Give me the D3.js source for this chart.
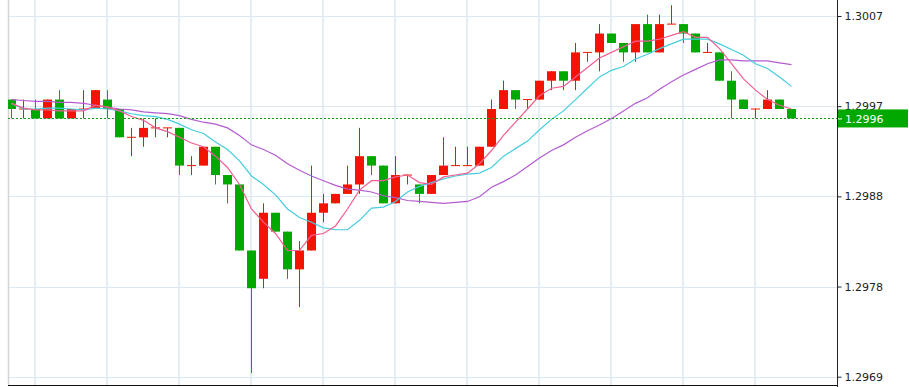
<!DOCTYPE html>
<html lang="en">
<head>
    <meta charset="UTF-8">
    <title>Candles</title>
    <style type="text/css">
        body { margin: 0; background: #ffffff; }
        .axis text { font: 11px "DejaVu Sans", sans-serif; fill: #222222; }
    </style>
</head>
<script src="https://d3js.org/d3.v7.min.js"></script>
<body>
<svg id="chart"></svg>

<script>
// OHLC (one candle per 12px)
var opens  = [1.2998,1.2997,1.2997,1.2996,1.2998,1.2996,1.2997,1.2997,1.2998,1.2997,
              1.2994,1.2994,1.2995,1.2995,1.2995,1.2991,1.2991,1.2993,1.2990,1.2989,
              1.2982,1.2979,1.2986,1.2984,1.2980,1.2982,1.2986,1.2987,1.2988,1.2989,
              1.2992,1.2991,1.2987,1.2990,1.2989,1.2988,1.2990,1.2991,1.2991,1.2991,
              1.2993,1.2997,1.2999,1.2998,1.2998,1.3000,1.3001,1.3000,1.3003,1.3003,
              1.3005,1.3004,1.3003,1.3006,1.3003,1.3006,1.3006,1.3005,1.3003,1.3003,
              1.3000,1.2998,1.2997,1.2997,1.2998,1.2997];
var highs  = [1.2998,1.2998,1.2998,1.2998,1.2999,1.2997,1.2999,1.2999,1.2999,1.2997,
              1.2995,1.2996,1.2996,1.2995,1.2995,1.2992,1.2993,1.2993,1.2990,1.2989,
              1.2982,1.2987,1.2986,1.2984,1.2983,1.2991,1.2988,1.2988,1.2991,1.2995,
              1.2992,1.2991,1.2992,1.2990,1.2989,1.2990,1.2994,1.2993,1.2993,1.2993,
              1.2998,1.3000,1.2999,1.2998,1.3000,1.3001,1.3001,1.3004,1.3003,1.3006,
              1.3005,1.3004,1.3006,1.3007,1.3007,1.3008,1.3006,1.3005,1.3004,1.3003,
              1.3001,1.2998,1.2997,1.2999,1.2998,1.2997];
var lows   = [1.2996,1.2996,1.2996,1.2996,1.2996,1.2996,1.2996,1.2997,1.2996,1.2994,
              1.2992,1.2993,1.2994,1.2994,1.2990,1.2990,1.2991,1.2989,1.2987,1.2982,
              1.2969,1.2978,1.2984,1.2979,1.2976,1.2982,1.2985,1.2987,1.2988,1.2988,
              1.2990,1.2987,1.2987,1.2989,1.2987,1.2988,1.2990,1.2991,1.2991,1.2991,
              1.2993,1.2997,1.2997,1.2997,1.2998,1.2999,1.2999,1.2999,1.3002,1.3001,
              1.3004,1.3002,1.3002,1.3003,1.3003,1.3006,1.3004,1.3003,1.3003,1.3000,
              1.2996,1.2997,1.2996,1.2997,1.2997,1.2996];
var closes = [1.2997,1.2997,1.2996,1.2998,1.2996,1.2997,1.2997,1.2999,1.2997,1.2994,
              1.2994,1.2995,1.2995,1.2995,1.2991,1.2991,1.2993,1.2990,1.2989,1.2982,
              1.2978,1.2986,1.2984,1.2980,1.2982,1.2986,1.2987,1.2988,1.2989,1.2992,
              1.2991,1.2987,1.2990,1.2990,1.2988,1.2990,1.2991,1.2991,1.2991,1.2993,
              1.2997,1.2999,1.2998,1.2998,1.3000,1.3001,1.3000,1.3003,1.3003,1.3005,
              1.3004,1.3003,1.3006,1.3003,1.3006,1.3006,1.3005,1.3003,1.3003,1.3000,
              1.2998,1.2997,1.2997,1.2998,1.2997,1.2996];

// moving average lines
var maFast = [1.29976,1.29971,1.29969,1.29969,1.29968,1.29968,1.29968,1.29974,1.29972,1.29968,
              1.29962,1.29958,1.29950,1.29946,1.29940,1.29934,1.29930,1.29920,1.29908,1.29890,
              1.29864,1.29850,1.29838,1.29820,1.29820,1.29836,1.29838,1.29846,1.29864,1.29884,
              1.29894,1.29894,1.29898,1.29900,1.29892,1.29890,1.29898,1.29900,1.29902,1.29912,
              1.29926,1.29942,1.29956,1.29970,1.29984,1.29992,1.29994,1.30004,1.30014,1.30024,
              1.30030,1.30036,1.30042,1.30042,1.30044,1.30048,1.30052,1.30046,1.30046,1.30034,
              1.30018,1.30002,1.29990,1.29980,1.29974,1.29970];
var maMid  = [1.29976,1.29970,1.29970,1.29971,1.29971,1.29970,1.29969,1.29971,1.29970,1.29968,
              1.29965,1.29963,1.29962,1.29959,1.29954,1.29948,1.29944,1.29935,1.29927,1.29915,
              1.29899,1.29890,1.29879,1.29864,1.29855,1.29850,1.29844,1.29842,1.29842,1.29852,
              1.29865,1.29866,1.29872,1.29882,1.29888,1.29892,1.29896,1.29899,1.29901,1.29902,
              1.29908,1.29920,1.29928,1.29936,1.29948,1.29959,1.29968,1.29980,1.29992,1.30004,
              1.30011,1.30015,1.30023,1.30028,1.30034,1.30039,1.30044,1.30044,1.30044,1.30039,
              1.30033,1.30027,1.30018,1.30013,1.30004,1.29994];
var maSlow = [1.29980,1.29979,1.29978,1.29978,1.29977,1.29977,1.29976,1.29974,1.29972,1.29970,
              1.29969,1.29967,1.29966,1.29965,1.29963,1.29959,1.29956,1.29954,1.29950,1.29942,
              1.29932,1.29927,1.29921,1.29912,1.29905,1.29899,1.29894,1.29889,1.29885,1.29884,
              1.29882,1.29878,1.29876,1.29873,1.29872,1.29871,1.29870,1.29871,1.29872,1.29877,
              1.29887,1.29893,1.29900,1.29909,1.29918,1.29926,1.29932,1.29940,1.29947,1.29953,
              1.29960,1.29968,1.29976,1.29982,1.29991,1.29999,1.30006,1.30012,1.30018,1.30022,
              1.30022,1.30021,1.30021,1.30021,1.30019,1.30017];

// price axis
var tickValues = [1.296862, 1.297818, 1.298774, 1.299730, 1.300686];
var tickLabels = ["1.2969", "1.2978", "1.2988", "1.2997", "1.3007"];
// vertical grid every 6 candles
var gridCandles = [2, 8, 14, 20, 26, 32, 38, 44, 50, 56, 62];

var svgWidth = 909;
var svgHeight = 387;
var plotLeft = 8;
var plotRight = 837.5;
var plotBottom = 385.5;

var upColor = "#f21400";
var downColor = "#00a800";

var svg = d3.select("#chart")
            .attr("width", svgWidth)
            .attr("height", svgHeight);

var xs = d3.scaleLinear().domain([0, closes.length - 1]).range([11.5, 791.5]);
var ys = d3.scaleLinear().domain([tickValues[0], tickValues[4]]).range([376.7, 16]);

svg.append("clipPath").attr("id", "plotClip")
   .append("rect")
   .attr("x", plotLeft).attr("y", 0)
   .attr("width", plotRight - plotLeft).attr("height", plotBottom);

// grid
var grid = svg.append("g");
grid.selectAll("line.h")
    .data(tickValues)
    .enter().append("line")
    .attr("class", "h")
    .attr("x1", plotLeft).attr("x2", plotRight)
    .attr("y1", function(d) { return Math.round(ys(d)) + 0.5; })
    .attr("y2", function(d) { return Math.round(ys(d)) + 0.5; })
    .style("stroke", "#dde8f1");
grid.selectAll("line.v")
    .data(gridCandles)
    .enter().append("line")
    .attr("class", "v")
    .attr("x1", function(d) { return Math.floor(xs(d)); })
    .attr("x2", function(d) { return Math.floor(xs(d)); })
    .attr("y1", 0).attr("y2", plotBottom)
    .style("stroke", "#dde8f1")
    .style("stroke-width", 1.5);

// left border
svg.append("line")
   .attr("x1", plotLeft + 0.5).attr("x2", plotLeft + 0.5)
   .attr("y1", 0).attr("y2", plotBottom)
   .style("stroke", "#d4d4d4")
   .style("stroke-width", 1.5);

var plot = svg.append("g").attr("clip-path", "url(#plotClip)");

var candles = closes.map(function(c, i) {
    return {i: i, o: opens[i], h: highs[i], l: lows[i], c: c};
});

function candleColor(d) { return d.c < d.o ? downColor : upColor; }

// wicks
plot.selectAll("rect.wick")
    .data(candles)
    .enter().append("rect")
    .attr("class", "wick")
    .attr("x", function(d) { return xs(d.i) - 0.5; })
    .attr("y", function(d) { return ys(d.h); })
    .attr("width", 1)
    .attr("height", function(d) { return ys(d.l) - ys(d.h); })
    .attr("fill", candleColor);

// bodies
plot.selectAll("rect.body")
    .data(candles)
    .enter().append("rect")
    .attr("class", "body")
    .attr("x", function(d) { return xs(d.i) - 4.5; })
    .attr("y", function(d) { return d.o == d.c ? ys(d.o) - 0.5 : ys(Math.max(d.o, d.c)); })
    .attr("width", 9)
    .attr("height", function(d) { return d.o == d.c ? 1 : ys(Math.min(d.o, d.c)) - ys(Math.max(d.o, d.c)); })
    .attr("fill", candleColor);

// moving averages
var maLine = d3.line()
    .x(function(d, i) { return xs(i); })
    .y(function(d) { return ys(d); });

[[maSlow, "#b45ccf"], [maMid, "#45cde0"], [maFast, "#f25f8f"]].forEach(function(m) {
    plot.append("path")
        .attr("d", maLine(m[0]))
        .attr("fill", "none")
        .style("stroke", m[1])
        .style("stroke-width", 1.2);
});

// last price dotted line
var last = closes[closes.length - 1];
svg.append("line")
   .attr("x1", plotLeft).attr("x2", plotRight)
   .attr("y1", Math.round(ys(last)) + 0.5).attr("y2", Math.round(ys(last)) + 0.5)
   .style("stroke", "#1c9a1c")
   .style("stroke-dasharray", "2,2");

// bottom and right axis lines
svg.append("line")
   .attr("x1", plotLeft).attr("x2", plotRight)
   .attr("y1", plotBottom).attr("y2", plotBottom)
   .style("stroke", "#111111");

var yAxis = svg.append("g")
   .attr("class", "axis")
   .attr("transform", "translate(" + plotRight + ",0)")
   .call(d3.axisRight(ys)
           .tickValues(tickValues)
           .tickSize(4)
           .tickPadding(3)
           .tickFormat(function(d, i) { return tickLabels[i]; }));
yAxis.select(".domain").remove();
yAxis.selectAll(".tick line").style("stroke", "#222222");

svg.append("line")
   .attr("x1", plotRight).attr("x2", plotRight)
   .attr("y1", 0).attr("y2", svgHeight)
   .style("stroke", "#222222");

// current price tag
var tag = svg.append("g").attr("transform", "translate(" + (plotRight + 0.5) + "," + ys(last) + ")");
tag.append("rect")
   .attr("x", 0).attr("y", -9)
   .attr("width", 70).attr("height", 18)
   .attr("fill", "#00a800");
tag.append("line")
   .attr("x1", 0).attr("x2", 4)
   .attr("y1", 0.5).attr("y2", 0.5)
   .style("stroke", "#ffffff");
tag.append("text")
   .attr("x", 7).attr("y", 0.5)
   .attr("dy", "0.35em")
   .style("font", "11px 'DejaVu Sans', sans-serif")
   .style("fill", "#ffffff")
   .text(d3.format(".4f")(last));
</script>
</body>
</html>
